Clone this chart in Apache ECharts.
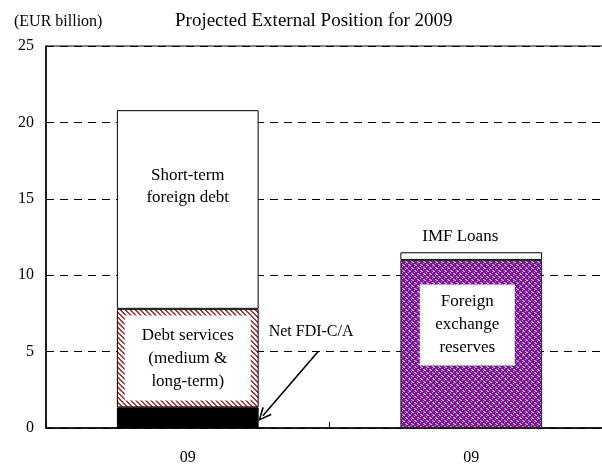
<!DOCTYPE html>
<html>
<head>
<meta charset="utf-8">
<script src="https://cdn.jsdelivr.net/npm/echarts@6/dist/echarts.min.js"></script>
<style>html,body{margin:0;padding:0;background:#fff;overflow:hidden}#c{width:602px;height:465px}</style>
</head>
<body>
<div id="c"></div>
<script>
// ---- data ----
var categories = ['09', '09'];
var netFDI = [1.35, '-'];
var debtServices = [6.45, '-'];
var shortTermDebt = [13.0, '-'];
var fxReserves = ['-', 11.0];
var imfLoans = ['-', 0.5];
var yTicks = [0, 5, 10, 15, 20, 25];
// annotation arrow (helper value axis: category boundaries at 0,1,2)
var arrowFrom = [0.96, 5.0];
var arrowTo = [0.765, 0.8];
var fdiTextAt = [0.935, 6.3];

var FONT = 'Liberation Serif';

function hatchPattern() {
  var c = document.createElement('canvas');
  c.width = 5; c.height = 5;
  var g = c.getContext('2d');
  g.fillStyle = '#ffffff'; g.fillRect(0, 0, 5, 5);
  g.fillStyle = '#b22f2f';
  for (var i = 0; i < 5; i++) {
    g.fillRect(i, i, 1, 1);
    g.fillRect((i + 1) % 5, i, 1, 1);
  }
  return c;
}
function purplePattern() {
  var c = document.createElement('canvas');
  c.width = 6; c.height = 6;
  var g = c.getContext('2d');
  g.fillStyle = '#82168c'; g.fillRect(0, 0, 6, 6);
  g.fillStyle = '#a79ad8';
  g.fillRect(0, 0, 2, 1);
  g.fillRect(3, 3, 2, 1);
  g.fillRect(1, 1, 1, 1);
  g.fillRect(4, 4, 1, 1);
  g.fillRect(0, 2, 1, 1);
  g.fillRect(3, 5, 1, 1);
  g.fillStyle = '#c8b8e8';
  g.fillRect(2, 1, 1, 1);
  g.fillRect(5, 4, 1, 1);
  return c;
}

var chart = echarts.init(document.getElementById('c'), null, {renderer: 'canvas'});
var arrowPath = 'path://M0,0 L6,12 L4.6,12.9 L0,3.2 L-4.6,12.9 L-6,12 Z';

var option = {
  backgroundColor: '#ffffff',
  animation: false,
  title: [
    {text: 'Projected External Position for 2009', left: 175, top: 12, padding: 0,
     textStyle: {fontFamily: FONT, fontSize: 19, fontWeight: 'normal', color: '#000'}},
    {text: '(EUR billion)', left: 14, top: 14, padding: 0,
     textStyle: {fontFamily: FONT, fontSize: 16, fontWeight: 'normal', color: '#000'}}
  ],
  grid: {left: 46, top: 46, width: 567, height: 382, outerBoundsMode: 'none', containLabel: false,
         show: true, borderColor: '#000', borderWidth: 1, backgroundColor: 'transparent'},
  xAxis: [
    {type: 'category', data: categories,
     axisLine: {lineStyle: {color: '#000', width: 1.5}},
     axisTick: {show: true, inside: true, length: 6, lineStyle: {color: '#000'}},
     axisLabel: {fontFamily: FONT, fontSize: 16, color: '#000', margin: 22},
     splitLine: {show: false}},
    {type: 'value', min: 0, max: 2, show: false}
  ],
  yAxis: {
    type: 'value', min: yTicks[0], max: yTicks[yTicks.length - 1], interval: 5,
    axisLine: {show: true, lineStyle: {color: '#000', width: 1.5}},
    axisTick: {show: false},
    axisLabel: {fontFamily: FONT, fontSize: 16, color: '#000', margin: 12},
    splitLine: {show: true, lineStyle: {color: '#000', type: [8, 6], width: 1}}
  },
  series: [
    {name: 'Net FDI-C/A', type: 'bar', stack: 's', barWidth: '50%', data: netFDI,
     itemStyle: {color: '#000', borderColor: '#000', borderWidth: 1}},
    {name: 'Debt services', type: 'bar', stack: 's', data: debtServices,
     itemStyle: {color: {image: hatchPattern(), repeat: 'repeat'}, borderColor: '#000', borderWidth: 1},
     label: {show: true, position: 'inside', formatter: 'Debt services\n(medium &\nlong-term)',
       fontFamily: FONT, fontSize: 17, color: '#000', lineHeight: 23,
       backgroundColor: '#fff', width: 126, align: 'center', padding: [8, 0, 8, 0]}},
    {name: 'Short-term foreign debt', type: 'bar', stack: 's', data: shortTermDebt,
     itemStyle: {color: '#fff', borderColor: '#000', borderWidth: 1},
     label: {show: true, position: 'inside', offset: [0, -23], formatter: 'Short-term\nforeign debt',
       fontFamily: FONT, fontSize: 17, color: '#000', lineHeight: 22}},
    {name: 'Foreign exchange reserves', type: 'bar', stack: 's', data: fxReserves,
     itemStyle: {color: {image: purplePattern(), repeat: 'repeat'}, borderColor: '#222', borderWidth: 1},
     label: {show: true, position: 'inside', offset: [-4, -19], formatter: 'Foreign\nexchange\nreserves',
       fontFamily: FONT, fontSize: 17, color: '#000', lineHeight: 23,
       backgroundColor: '#fff', width: 95, align: 'center', padding: [6, 0, 6, 0]}},
    {name: 'IMF Loans', type: 'bar', stack: 's', data: imfLoans,
     itemStyle: {color: '#fff', borderColor: '#000', borderWidth: 1},
     label: {show: true, position: 'top', offset: [-11, -2], formatter: 'IMF Loans',
       fontFamily: FONT, fontSize: 17, color: '#000'}},
    {name: 'annot', type: 'line', xAxisIndex: 1, yAxisIndex: 0, data: [], silent: true,
     markLine: {silent: true, symbol: ['none', arrowPath], symbolSize: [12, 14],
       lineStyle: {color: '#000', width: 1.6, type: 'solid'}, label: {show: false},
       data: [[{coord: arrowFrom}, {coord: arrowTo}]]},
     markPoint: {silent: true, symbol: 'circle', symbolSize: 0,
       label: {show: true, position: 'inside', formatter: 'Net FDI-C/A', fontFamily: FONT, fontSize: 16, color: '#000'},
       data: [{coord: fdiTextAt}]}}
  ]
};
chart.setOption(option);
</script>
</body>
</html>
